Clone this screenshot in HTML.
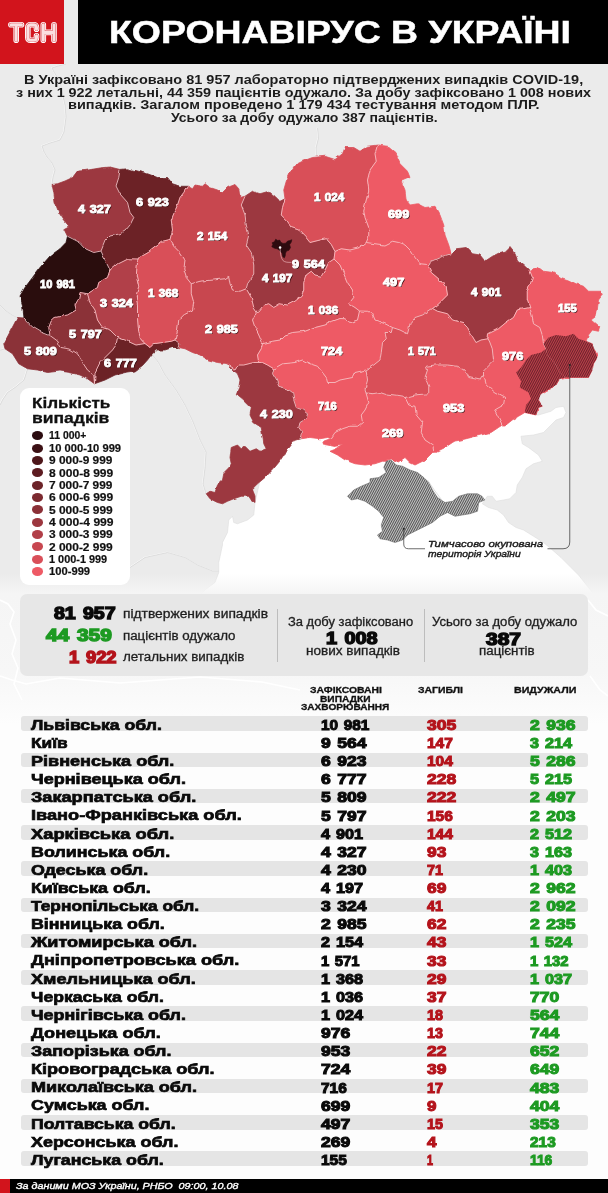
<!DOCTYPE html>
<html lang="uk"><head><meta charset="utf-8"><title>Коронавірус в Україні</title>
<style>
html,body{margin:0;padding:0}
body{width:608px;height:1193px;position:relative;overflow:hidden;background:#fdfdfd;font-family:"Liberation Sans",sans-serif;color:#111}
.abs{position:absolute}
#map{position:absolute;left:0;top:0;width:608px;height:1193px}
.t{position:absolute;white-space:nowrap;line-height:1;transform-origin:0 50%}
.c{transform-origin:50% 50%}
.hdr-red{left:0;top:0;width:64px;height:64px;background:#d2141c}
.hdr-blk{left:78px;top:0;width:530px;height:64px;background:#000}
.title{left:108px;top:17px;font-size:30px;font-weight:bold;color:#fff;letter-spacing:0.2px}
.desc{left:0;width:608px;text-align:center;font-size:12.2px;font-weight:bold;color:#1d1d1d}
.legend{left:20px;top:388px;width:110px;height:197px;background:#fff;border-radius:9px}
.lgt{left:32px;font-size:14.5px;font-weight:bold;color:#111}
.ld{position:absolute;left:31.6px;width:11.8px;height:9px;border-radius:50%}
.ll{left:49px;font-size:10.4px;font-weight:bold;color:#111}
.stats{left:20px;top:593.5px;width:568px;height:82px;background:#e7e7e7;border-radius:7px}
.big{font-size:20px;font-weight:bold;-webkit-text-stroke:0.7px currentColor}
.sl{font-size:11.6px;color:#222}
.vd{width:1px;background:#bdbdbd}
.th{font-size:8.6px;font-weight:bold;color:#111;-webkit-text-stroke:0.25px #111}
.stripe{left:20.5px;width:567px;height:14.6px;background:#e5e5e5;border-radius:3px}
.rn{left:30px;font-size:13.6px;font-weight:bold;color:#0a0a0a;-webkit-text-stroke:0.45px currentColor}
.n1{left:320px;font-size:14px;font-weight:bold;color:#0a0a0a;-webkit-text-stroke:0.55px currentColor}
.n2{left:426.5px;font-size:14px;font-weight:bold;color:#b4131b;-webkit-text-stroke:0.55px currentColor}
.n3{left:530px;font-size:14px;font-weight:bold;color:#1f9a1f;-webkit-text-stroke:0.55px currentColor}
.ft{left:0;top:1179px;width:608px;height:14px;background:#000}
.ftr{left:0;top:1179px;width:10px;height:14px;background:#d2141c}
.ftt{left:15px;top:1182.5px;font-size:8.6px;font-weight:bold;font-style:italic;color:#fff}
.ml{font-family:"Liberation Sans",sans-serif;font-weight:bold;font-size:11.3px;fill:#fff;text-anchor:middle;paint-order:stroke;stroke:#fff;stroke-width:0.35px}
.mls{font-family:"Liberation Sans",sans-serif;font-weight:bold;font-size:11.3px;fill:#3a0d10;text-anchor:middle;stroke:#3a0d10;stroke-width:0.5px;opacity:.75}
</style></head><body>
<svg id="map" viewBox="0 0 608 1193">
<defs>
<pattern id="hr" width="2" height="2" patternUnits="userSpaceOnUse" patternTransform="rotate(-62)"><rect width="2" height="2" fill="#bd414b"/><rect width="2" height="0.95" fill="#672029"/></pattern>
<pattern id="hg" width="2" height="2" patternUnits="userSpaceOnUse" patternTransform="rotate(-62)"><rect width="2" height="2" fill="#c6c6c6"/><rect width="2" height="0.9" fill="#474747"/></pattern>
<linearGradient id="fade" x1="0" y1="0" x2="0" y2="1"><stop offset="0" stop-color="#f5f5f5" stop-opacity="0"/><stop offset="1" stop-color="#f5f5f5" stop-opacity="1"/></linearGradient><linearGradient id="fade2" x1="0" y1="0" x2="0" y2="1"><stop offset="0" stop-color="#f5f5f5"/><stop offset="0.6" stop-color="#f7f7f7"/><stop offset="1" stop-color="#fdfdfd"/></linearGradient>
<filter id="rough" x="0" y="140" width="608" height="380" filterUnits="userSpaceOnUse"><feTurbulence type="fractalNoise" baseFrequency="0.12" numOctaves="2" seed="7" result="n"/><feDisplacementMap in="SourceGraphic" in2="n" scale="3.2" xChannelSelector="R" yChannelSelector="G"/></filter>
</defs>
<rect x="0" y="0" width="608" height="600" fill="#ebebeb"/>
<path d="M255 502.5 L262 472 L290 430 L330 420 L430 430 L500 415 L530 404 L536 415 L538.5 415 L551 411.25 L556 407.5 L563.5 406.25 L566 412.5 L563.5 417.5 L556 420 L551 425 L543.5 432.5 L533.5 435 L521 436.25 L522.25 443.75 L528.5 447.5 L538.5 455 L542.25 461.25 L533.5 463.75 L526 468.75 L522.25 477.5 L517.25 485 L516 492.5 L509.75 498.75 L503.5 500 L496 501.25 L492.25 496.25 L487.25 496.25 L482.25 503.75 L488.5 507.5 L497.25 510 L503.5 515 L508.5 522.5 L516 527.5 L523.5 530 L533.5 536.25 L543.5 542.5 L551 548.75 L561 557.5 L571 567.5 L578.5 575 L592 592 L594 600 L196 600 L201 594 L205 590 L215 582.5 L218.75 572.5 L218.75 562.5 L222.5 545 L222.5 542.5 L227.5 532.5 L228.75 520 L232.5 516.25 L233.75 522.5 L237.5 523.75 L247.5 520 L253.75 515Z" fill="#ffffff" stroke="#dddddd" stroke-width="0.6"/>
<path d="M66 64 L58 66 L52 68 L54 72 L60 82 L62 92 L65 105 L66 117 L64 132 L60 140 L50 143 L42 146 L44 152 L47 157 L52 163 L55 170 L53 177 L52 184" fill="none" stroke="#fbfbfb" stroke-width="1" transform="translate(-0.5,-0.3)"/>
<path d="M66 64 L58 66 L52 68 L54 72 L60 82 L62 92 L65 105 L66 117 L64 132 L60 140 L50 143 L42 146 L44 152 L47 157 L52 163 L55 170 L53 177 L52 184" fill="none" stroke="#d3d3d3" stroke-width="0.7"/>
<path d="M0 305 L6 311 L12 315 L18 318 L24 318" fill="none" stroke="#fbfbfb" stroke-width="1" transform="translate(-0.5,-0.3)"/>
<path d="M0 305 L6 311 L12 315 L18 318 L24 318" fill="none" stroke="#d3d3d3" stroke-width="0.7"/>
<path d="M5 349 L0 350" fill="none" stroke="#fbfbfb" stroke-width="1" transform="translate(-0.5,-0.3)"/>
<path d="M5 349 L0 350" fill="none" stroke="#d3d3d3" stroke-width="0.7"/>
<path d="M27.5 369 L24 380 L15 387.5 L7.5 392.5 L2.5 400 L0 405" fill="none" stroke="#fbfbfb" stroke-width="1" transform="translate(-0.5,-0.3)"/>
<path d="M27.5 369 L24 380 L15 387.5 L7.5 392.5 L2.5 400 L0 405" fill="none" stroke="#d3d3d3" stroke-width="0.7"/>
<path d="M150 352 L158 362 L165 375 L176 390 L185 405 L193 422 L200 440 L206 452 L205 468 L203 484 L206 494" fill="none" stroke="#fbfbfb" stroke-width="1" transform="translate(-0.5,-0.3)"/>
<path d="M150 352 L158 362 L165 375 L176 390 L185 405 L193 422 L200 440 L206 452 L205 468 L203 484 L206 494" fill="none" stroke="#d3d3d3" stroke-width="0.7"/>
<path d="M130 567.5 L145 557.5 L167.5 552.5 L185 557.5 L197.5 565 L212.5 571 L218.75 571" fill="none" stroke="#fbfbfb" stroke-width="1" transform="translate(-0.5,-0.3)"/>
<path d="M130 567.5 L145 557.5 L167.5 552.5 L185 557.5 L197.5 565 L212.5 571 L218.75 571" fill="none" stroke="#d3d3d3" stroke-width="0.7"/>
<path d="M317.5 128 L318.5 138 L316 148 L316.5 156" fill="none" stroke="#fbfbfb" stroke-width="1" transform="translate(-0.5,-0.3)"/>
<path d="M317.5 128 L318.5 138 L316 148 L316.5 156" fill="none" stroke="#d3d3d3" stroke-width="0.7"/>
<rect x="0" y="574" width="608" height="20" fill="url(#fade)"/>
<rect x="0" y="594" width="608" height="130" fill="url(#fade2)"/>
<rect x="0" y="724" width="608" height="469" fill="#fdfdfd"/>
<path d="M0 600 L8 604 L14 612 L10 624 L16 640 L12 654 L18 668 L14 684 L22 700" fill="none" stroke="#ffffff" stroke-width="1.6"/>
<path d="M0 676 L12 680 L26 684 L60 678 L120 683 L200 677 L262 682 L300 690" fill="none" stroke="#ffffff" stroke-width="1.6"/>
<path d="M588 600 L596 610 L608 616" fill="none" stroke="#ffffff" stroke-width="1.6"/>
<path d="M590 676 L600 690 L608 696" fill="none" stroke="#ffffff" stroke-width="1.6"/>
<g filter="url(#rough)">
<path d="M67.5 236.25 L63.75 228.75 L68.75 226 L63.75 220 L58.75 212.5 L55 202.5 L53.75 192.5 L52 184.5 L57.5 183.75 L65 181 L72.5 177.5 L77.5 171 L85 170.5 L100 168 L110 167 L120 169.5 L118.75 177.5 L116 186 L120 194 L127.5 202.5 L130 212.5 L133.75 217.5 L130 225 L125 231 L120 233.75 L110 236 L105 241 L101 251 L93.75 252.5 L86 249 L80 242.5 L72.5 238.75 L67.5 236.25Z" fill="#9c373f" stroke="#9c373f" stroke-width="0.8"/>
<path d="M120 169.5 L127.5 168.75 L137.5 171.25 L147.5 173.75 L157.5 177.5 L167.5 177.5 L172.5 183.75 L180 186.25 L187.5 186.25 L183.75 192.5 L180 197.5 L177.5 205 L173.75 213.75 L171.25 220 L172.5 230 L170 239.5 L162.5 241.25 L155 246.25 L148.75 251.25 L140 256.25 L138 259 L127.5 258.75 L117.5 263.75 L110 270 L107 264 L103.75 257 L101 251 L105 241 L110 236 L120 233.75 L125 231 L130 225 L133.75 217.5 L130 212.5 L127.5 202.5 L120 194 L116 186 L118.75 177.5 L120 169.5Z" fill="#6c2328" stroke="#6c2328" stroke-width="0.8"/>
<path d="M187.5 186.25 L192.5 188.75 L195 185 L202.5 186.25 L205 183.75 L210 187.5 L217.5 190 L222.5 192.5 L227.5 187.5 L235 184.5 L238.75 188.75 L240 197.5 L245 196.25 L241.25 205 L245 215 L246.25 225 L248.75 235 L246.25 245 L251.25 252.5 L253.75 265 L253.75 275 L247.5 283.75 L246.25 288.75 L240 291.25 L232.5 290 L230 283.75 L228.75 276.25 L225 278.75 L212.5 280 L200 281.25 L191.25 283.75 L186.25 277.5 L183.75 270 L185 260 L180 252.5 L173.75 246.25 L170 239.5 L172.5 230 L171.25 220 L173.75 213.75 L177.5 205 L180 197.5 L183.75 192.5 L187.5 186.25Z" fill="#c84750" stroke="#c84750" stroke-width="0.8"/>
<path d="M245 196.25 L252.5 191.25 L260 193.75 L268.75 191.25 L275 196.25 L280 201.25 L285 198.75 L282.5 207.5 L281.25 215 L286.25 220 L291.25 227.5 L298.75 230 L305 236.25 L310 242.5 L320 240 L326.25 238.75 L331.25 244.5 L335 251.5 L334 259 L328.75 262.5 L325 270 L321.25 276.25 L315 275 L311.25 271.25 L306.25 275 L303.75 282.5 L303.75 290 L301.25 296.25 L295 301.25 L287.5 305 L280 303.75 L273.75 307.5 L268.75 303.75 L263.75 305 L258.75 311.25 L256.5 311.5 L253.75 307.5 L251.25 297.5 L246.25 288.75 L247.5 283.75 L253.75 275 L253.75 265 L251.25 252.5 L246.25 245 L248.75 235 L246.25 225 L245 215 L241.25 205 L245 196.25Z" fill="#9c373f" stroke="#9c373f" stroke-width="0.8"/>
<path d="M285 198.75 L283.75 190 L286.25 181.25 L290 172.5 L295 165 L302.5 161.25 L312.5 157.5 L325 156.25 L335 159.5 L342.5 153.75 L345 147.5 L353.75 147.5 L360 151.25 L367.5 146.25 L377.5 145 L375 153.75 L376.25 161.25 L370 170 L367.5 180 L368.75 190 L366.25 200 L363.75 210 L365 217.5 L368.75 227.5 L368.75 236.25 L366.25 242.5 L360 247.5 L350 250 L341.25 248.75 L335 251.5 L331.25 244.5 L326.25 238.75 L320 240 L310 242.5 L305 236.25 L298.75 230 L291.25 227.5 L286.25 220 L281.25 215 L282.5 207.5 L285 198.75Z" fill="#d94f59" stroke="#d94f59" stroke-width="0.8"/>
<path d="M377.5 145 L387.5 146.25 L395 152.5 L400 163.75 L407.5 171.25 L410 177.5 L401.25 181.25 L405 190 L406.25 200 L410 205 L417.5 203.75 L425 207.5 L435 206.25 L440 215 L443.75 225 L445 235 L448.75 245 L451.25 253.75 L442.5 256.25 L431.25 261.25 L427.5 264.5 L420 263.75 L415 257.5 L410 250 L405 245 L398.75 242.5 L392.5 241.25 L385 245 L375 243.75 L366.25 242.5 L368.75 236.25 L368.75 227.5 L365 217.5 L363.75 210 L366.25 200 L368.75 190 L367.5 180 L370 170 L376.25 161.25 L375 153.75 L377.5 145Z" fill="#ee5a65" stroke="#ee5a65" stroke-width="0.8"/>
<path d="M451.25 253.75 L456.25 248.75 L466.25 247.5 L472.5 253.75 L480 255 L485 261.25 L492.5 256.25 L500 252.5 L506.25 251.25 L510 247.5 L515 253.75 L517.5 260 L525 266.25 L530 271.25 L532.5 277.5 L530 285 L527.25 291.25 L527.25 300 L529.75 307.5 L517.25 310 L513.5 317.5 L506 322.5 L498.5 328.75 L488.5 333.75 L488 338.75 L481 340 L476 342.5 L472.25 336.25 L467.5 327.5 L462.5 322.5 L452.5 320 L447.5 313.75 L437.5 311.25 L432.5 308.5 L437.5 305 L442.5 300 L447.5 295 L446.25 287.5 L440 280 L431.25 272.5 L427.5 264.5 L431.25 261.25 L442.5 256.25 L451.25 253.75Z" fill="#9c373f" stroke="#9c373f" stroke-width="0.8"/>
<path d="M530 271.25 L538.5 267.5 L543.5 271.25 L553.5 272.5 L561 277.5 L568.5 280 L576 283.75 L583.5 286.25 L588.5 291.25 L601 291.25 L602.25 295 L598.5 300 L597.25 310 L596 316.25 L591 320 L599.75 327.5 L598.5 331.25 L592.25 330 L588.5 335 L586 341.25 L592.25 343.75 L594.75 350 L597.25 357.5 L593.5 363.75 L592.25 370 L588.5 377.5 L576 377.5 L566 377.5 L559.75 372.5 L556 365 L552.25 360 L547.25 355 L546 348.75 L543.5 343.75 L542.25 335 L539.75 327.5 L533.5 323.75 L532.25 316.25 L529.75 307.5 L527.25 300 L527.25 291.25 L530 285 L532.5 277.5 L530 271.25Z" fill="#ee5a65" stroke="#ee5a65" stroke-width="0.8"/>
<path d="M529.75 307.5 L532.25 316.25 L533.5 323.75 L539.75 327.5 L542.25 335 L543.5 343.75 L546 348.75 L547.25 355 L552.25 360 L556 365 L559.75 372.5 L566 377.5 L559.75 378.75 L556 385 L549.75 388.75 L541 393.75 L538.5 400 L542.25 406.25 L538.5 407.5 L536 415 L524.75 412.5 L518.5 416.25 L512.25 420 L506 425 L502.25 425 L498.5 417.5 L494.75 410 L503.5 405 L504.75 397.5 L493.5 391.25 L486 383.75 L483.5 375 L483.5 370 L488.5 365 L493.5 360 L492.25 348.75 L489.75 342 L488 338.75 L488.5 333.75 L498.5 328.75 L506 322.5 L513.5 317.5 L517.25 310 L529.75 307.5Z" fill="#ee5a65" stroke="#ee5a65" stroke-width="0.8"/>
<path d="M483.5 375 L486 383.75 L493.5 391.25 L504.75 397.5 L503.5 405 L494.75 410 L498.5 417.5 L502.25 425 L498.5 427.5 L491 432.5 L481 435 L471 437.5 L461 440 L455 441 L452.5 442.5 L445 447.5 L437.5 451.25 L433.75 451.25 L432.5 445 L425 440 L421.25 432.5 L422.5 422.5 L416.25 415 L415 406.25 L408.75 405 L405 397.5 L415 395 L428.75 393.75 L428.75 386.25 L425 377.5 L427.5 370 L426.25 366.25 L435 365 L447.5 365 L457.5 366.25 L465 370 L468.75 377.5 L480 380 L483.5 375Z" fill="#ee5a65" stroke="#ee5a65" stroke-width="0.8"/>
<path d="M405 397.5 L408.75 405 L415 406.25 L416.25 415 L422.5 422.5 L421.25 432.5 L425 440 L432.5 445 L433.75 451.25 L430 455 L425 460 L420 462.5 L415 465 L410 462.5 L405 457.5 L397.5 462.5 L391.25 460 L386.25 461.25 L382.5 461.25 L375 463.75 L365 465 L355 463.75 L345 460 L337.5 455 L330 451.25 L336 449 L343 445 L335 446.5 L322 444 L324 441 L331 438.5 L335 432.5 L342.5 428.75 L350 426.25 L357.5 426.25 L362.5 422.5 L361.25 415 L365 410 L368.75 402.5 L366 393 L372.5 393.75 L380 392.5 L387.5 395 L397.5 396.25 L405 397.5Z" fill="#ee5a65" stroke="#ee5a65" stroke-width="0.8"/>
<path d="M331 438.5 L327.5 437.5 L320 438.75 L310 437.5 L301.25 438.75 L302.5 432.5 L298.75 427.5 L300 422.5 L306.25 418.75 L307.5 413.75 L302.5 410 L296.25 407.5 L293.75 400 L292.5 392.5 L287.5 388.75 L278.75 386.25 L276.25 380 L272.5 373.75 L273.75 368.75 L282.5 363.75 L295 362.5 L302.5 360 L310 363.75 L317.5 366.25 L322.5 372.5 L326.25 377.5 L327.5 382.5 L335 382.5 L340 380 L352.5 377.5 L355 372.5 L366 370 L367.5 380 L365 390 L366 393 L368.75 402.5 L365 410 L361.25 415 L362.5 422.5 L357.5 426.25 L350 426.25 L342.5 428.75 L335 432.5 L331 438.5Z" fill="#ee5a65" stroke="#ee5a65" stroke-width="0.8"/>
<path d="M301.25 438.75 L292.5 441.25 L287.5 447.5 L283.75 455 L278.75 462.5 L272.5 470 L265 477.5 L257.5 483.75 L252.5 488.75 L255 495 L255 502.5 L251.25 500 L248.75 496.25 L241.25 496.25 L233.75 498.75 L227.5 501.25 L222.5 503.75 L217.5 502.5 L210 498.75 L206.25 493.75 L210 491.25 L215 492.5 L217.5 485 L222.5 480 L223.75 473.75 L228.75 468.75 L231.25 463.75 L230 457.5 L231.25 447.5 L237.5 445 L241.25 448.75 L245 446.25 L250 451.25 L256.25 448.75 L260 451.25 L266.25 448.75 L263.75 443.75 L262.5 435 L261.25 427.5 L253.75 422.5 L250 415 L251.25 407.5 L247.5 403.75 L242.5 398.75 L236.25 393.75 L238.75 387.5 L240 380 L237.5 373.75 L232 369 L228.5 365.5 L235 369 L237.5 365 L243.75 365 L253.75 362.5 L258.75 362.5 L262.5 362.5 L267.5 365 L273.75 368.75 L272.5 373.75 L276.25 380 L278.75 386.25 L287.5 388.75 L292.5 392.5 L293.75 400 L296.25 407.5 L302.5 410 L307.5 413.75 L306.25 418.75 L300 422.5 L298.75 427.5 L302.5 432.5 L301.25 438.75Z" fill="#9c373f" stroke="#9c373f" stroke-width="0.8"/>
<path d="M228.5 365.5 L227.5 363.75 L217.5 362.5 L207.5 360 L200 355 L192.5 352.5 L185 348.75 L178.75 347.5 L180 343.75 L175 340 L177.5 330 L178.75 320 L185 313.75 L192.5 310 L193.75 302.5 L191.25 293.75 L191.25 283.75 L200 281.25 L212.5 280 L225 278.75 L228.75 276.25 L230 283.75 L232.5 290 L240 291.25 L246.25 288.75 L251.25 297.5 L253.75 307.5 L256.5 311.5 L252.5 320 L255 327.5 L258.75 335 L262.5 343.75 L261.25 348.75 L257.5 355 L258.75 362.5 L253.75 362.5 L243.75 365 L237.5 365 L235 369 L228.5 365.5Z" fill="#c84750" stroke="#c84750" stroke-width="0.8"/>
<path d="M178.75 347.5 L172.5 347.5 L165 350 L156.25 350 L151.25 355 L147.5 360 L142.5 365.5 L135 371 L125 372.5 L115 375 L105 380 L94.5 383.75 L95 372.5 L100 362.5 L107.5 355 L112.5 350 L116 345 L117.5 337.5 L125 340 L136 345 L145 343.5 L150 347.5 L153.75 343.75 L162.5 342.5 L171.25 341.25 L175 340 L180 343.75 L178.75 347.5Z" fill="#6c2328" stroke="#6c2328" stroke-width="0.8"/>
<path d="M94.5 383.75 L87.5 378.75 L80 375 L70 372.5 L60 371 L47.5 372.5 L37.5 370 L27.5 368.75 L18.75 363.75 L12.5 353.75 L5 348.75 L3.75 343.75 L11 330 L17.5 317.5 L24 318 L32.5 327 L40 331.5 L50 335.5 L57.5 341 L61 347.5 L70 349 L77.5 353.75 L82.5 362.5 L87.5 370 L93.75 375 L94.5 383.75Z" fill="#8b3037" stroke="#8b3037" stroke-width="0.8"/>
<path d="M24 318 L22.5 305 L20 296 L25 287.5 L32.5 277.5 L40 267.5 L50 256 L60 248.75 L66 242.5 L67.5 236.25 L72.5 238.75 L80 242.5 L86 249 L93.75 252.5 L101 251 L103.75 257 L107 264 L110 270 L107.5 277.5 L98.75 282.5 L97.5 287.5 L87.5 293.75 L80 292.5 L78.75 298.75 L75 305 L76.25 310 L67.5 315 L55 317.5 L51.25 321 L48.75 327.5 L50 335.5 L40 331.5 L32.5 327 L24 318Z" fill="#2b0c10" stroke="#2b0c10" stroke-width="0.8"/>
<path d="M50 335.5 L48.75 327.5 L51.25 321 L55 317.5 L67.5 315 L76.25 310 L75 305 L78.75 298.75 L80 292.5 L87.5 293.75 L90 302.5 L95 310 L97.5 320 L102.5 327.5 L110 330 L117.5 337.5 L116 345 L112.5 350 L107.5 355 L100 362.5 L95 372.5 L94.5 383.75 L93.75 375 L87.5 370 L82.5 362.5 L77.5 353.75 L70 349 L61 347.5 L57.5 341 L50 335.5Z" fill="#8b3037" stroke="#8b3037" stroke-width="0.8"/>
<path d="M110 270 L117.5 263.75 L127.5 258.75 L138 259 L137.5 262.5 L136.25 275 L138.75 286.25 L136.25 295 L137.5 305 L137.5 317.5 L138.75 332.5 L141.25 340 L145 343.5 L136 345 L125 340 L117.5 337.5 L110 330 L102.5 327.5 L97.5 320 L95 310 L90 302.5 L87.5 293.75 L97.5 287.5 L98.75 282.5 L107.5 277.5 L110 270Z" fill="#b13f48" stroke="#b13f48" stroke-width="0.8"/>
<path d="M138 259 L140 256.25 L148.75 251.25 L155 246.25 L162.5 241.25 L170 239.5 L173.75 246.25 L180 252.5 L185 260 L183.75 270 L186.25 277.5 L191.25 283.75 L191.25 293.75 L193.75 302.5 L192.5 310 L185 313.75 L178.75 320 L177.5 330 L175 340 L171.25 341.25 L162.5 342.5 L153.75 343.75 L150 347.5 L145 343.5 L141.25 340 L138.75 332.5 L137.5 317.5 L137.5 305 L136.25 295 L138.75 286.25 L136.25 275 L137.5 262.5 L138 259Z" fill="#d94f59" stroke="#d94f59" stroke-width="0.8"/>
<path d="M256.5 311.5 L258.75 311.25 L263.75 305 L268.75 303.75 L273.75 307.5 L280 303.75 L287.5 305 L295 301.25 L301.25 296.25 L303.75 290 L303.75 282.5 L306.25 275 L311.25 271.25 L315 275 L321.25 276.25 L325 270 L328.75 262.5 L334 259 L340 265 L343.75 273.75 L347.5 282.5 L352.5 290 L353.75 297.5 L348.75 303.75 L355 307.5 L359.5 311 L357.5 320 L350 322.5 L345 318.75 L340 318.5 L332.5 321.25 L325 325 L315 327.5 L305 331.25 L292.5 332.5 L285 335 L280 340 L272.5 341.25 L262.5 343.75 L258.75 335 L255 327.5 L252.5 320 L256.5 311.5Z" fill="#d94f59" stroke="#d94f59" stroke-width="0.8"/>
<path d="M335 251.5 L341.25 248.75 L350 250 L360 247.5 L366.25 242.5 L375 243.75 L385 245 L392.5 241.25 L398.75 242.5 L405 245 L410 250 L415 257.5 L420 263.75 L427.5 264.5 L431.25 272.5 L440 280 L446.25 287.5 L447.5 295 L442.5 300 L437.5 305 L432.5 308.5 L422.5 315 L415 317.5 L410 323.75 L407.5 333.75 L400 330 L392.5 327.5 L385 323.75 L375 320 L372.5 313.75 L367.5 311.25 L359.5 311 L355 307.5 L348.75 303.75 L353.75 297.5 L352.5 290 L347.5 282.5 L343.75 273.75 L340 265 L334 259 L335 251.5Z" fill="#ee5a65" stroke="#ee5a65" stroke-width="0.8"/>
<path d="M262.5 343.75 L272.5 341.25 L280 340 L285 335 L292.5 332.5 L305 331.25 L315 327.5 L325 325 L332.5 321.25 L340 318.5 L345 318.75 L350 322.5 L357.5 320 L359.5 311 L367.5 311.25 L372.5 313.75 L375 320 L385 323.75 L392.5 327.5 L391.25 332.5 L385 332.5 L386.25 338.75 L382.5 342.5 L381.25 352.5 L380 360 L373.75 365 L366 370 L355 372.5 L352.5 377.5 L340 380 L335 382.5 L327.5 382.5 L326.25 377.5 L322.5 372.5 L317.5 366.25 L310 363.75 L302.5 360 L295 362.5 L282.5 363.75 L273.75 368.75 L267.5 365 L262.5 362.5 L258.75 362.5 L257.5 355 L261.25 348.75 L262.5 343.75Z" fill="#ee5a65" stroke="#ee5a65" stroke-width="0.8"/>
<path d="M392.5 327.5 L400 330 L407.5 333.75 L410 323.75 L415 317.5 L422.5 315 L432.5 308.5 L437.5 311.25 L447.5 313.75 L452.5 320 L462.5 322.5 L467.5 327.5 L472.25 336.25 L476 342.5 L481 340 L488 338.75 L489.75 342 L492.25 348.75 L493.5 360 L488.5 365 L483.5 370 L483.5 375 L480 380 L468.75 377.5 L465 370 L457.5 366.25 L447.5 365 L435 365 L426.25 366.25 L427.5 370 L425 377.5 L428.75 386.25 L428.75 393.75 L415 395 L405 397.5 L397.5 396.25 L387.5 395 L380 392.5 L372.5 393.75 L366 393 L365 390 L367.5 380 L366 370 L373.75 365 L380 360 L381.25 352.5 L382.5 342.5 L386.25 338.75 L385 332.5 L391.25 332.5 L392.5 327.5Z" fill="#d94f59" stroke="#d94f59" stroke-width="0.8"/>
<path d="M67.5 236.25 L72.5 238.75 L80 242.5 L86 249 L93.75 252.5 L101 251 M120 169.5 L118.75 177.5 L116 186 L120 194 L127.5 202.5 L130 212.5 L133.75 217.5 L130 225 L125 231 L120 233.75 L110 236 L105 241 L101 251 M101 251 L103.75 257 L107 264 L110 270 M110 270 L117.5 263.75 L127.5 258.75 L138 259 M138 259 L140 256.25 L148.75 251.25 L155 246.25 L162.5 241.25 L170 239.5 M187.5 186.25 L183.75 192.5 L180 197.5 L177.5 205 L173.75 213.75 L171.25 220 L172.5 230 L170 239.5 M110 270 L107.5 277.5 L98.75 282.5 L97.5 287.5 L87.5 293.75 M87.5 293.75 L80 292.5 L78.75 298.75 L75 305 L76.25 310 L67.5 315 L55 317.5 L51.25 321 L48.75 327.5 L50 335.5 M50 335.5 L40 331.5 L32.5 327 L24 318 M50 335.5 L57.5 341 L61 347.5 L70 349 L77.5 353.75 L82.5 362.5 L87.5 370 L93.75 375 L94.5 383.75 M87.5 293.75 L90 302.5 L95 310 L97.5 320 L102.5 327.5 L110 330 L117.5 337.5 M117.5 337.5 L116 345 L112.5 350 L107.5 355 L100 362.5 L95 372.5 L94.5 383.75 M117.5 337.5 L125 340 L136 345 L145 343.5 M138 259 L137.5 262.5 L136.25 275 L138.75 286.25 L136.25 295 L137.5 305 L137.5 317.5 L138.75 332.5 L141.25 340 L145 343.5 M145 343.5 L150 347.5 L153.75 343.75 L162.5 342.5 L171.25 341.25 L175 340 M175 340 L177.5 330 L178.75 320 L185 313.75 L192.5 310 L193.75 302.5 L191.25 293.75 L191.25 283.75 M170 239.5 L173.75 246.25 L180 252.5 L185 260 L183.75 270 L186.25 277.5 L191.25 283.75 M191.25 283.75 L200 281.25 L212.5 280 L225 278.75 L228.75 276.25 L230 283.75 L232.5 290 L240 291.25 L246.25 288.75 M245 196.25 L241.25 205 L245 215 L246.25 225 L248.75 235 L246.25 245 L251.25 252.5 L253.75 265 L253.75 275 L247.5 283.75 L246.25 288.75 M246.25 288.75 L251.25 297.5 L253.75 307.5 L256.5 311.5 M256.5 311.5 L252.5 320 L255 327.5 L258.75 335 L262.5 343.75 M262.5 343.75 L261.25 348.75 L257.5 355 L258.75 362.5 M228.5 365.5 L235 369 L237.5 365 L243.75 365 L253.75 362.5 L258.75 362.5 M175 340 L180 343.75 L178.75 347.5 M258.75 362.5 L262.5 362.5 L267.5 365 L273.75 368.75 M273.75 368.75 L272.5 373.75 L276.25 380 L278.75 386.25 L287.5 388.75 L292.5 392.5 L293.75 400 L296.25 407.5 L302.5 410 L307.5 413.75 L306.25 418.75 L300 422.5 L298.75 427.5 L302.5 432.5 L301.25 438.75 M273.75 368.75 L282.5 363.75 L295 362.5 L302.5 360 L310 363.75 L317.5 366.25 L322.5 372.5 L326.25 377.5 L327.5 382.5 L335 382.5 L340 380 L352.5 377.5 L355 372.5 L366 370 M256.5 311.5 L258.75 311.25 L263.75 305 L268.75 303.75 L273.75 307.5 L280 303.75 L287.5 305 L295 301.25 L301.25 296.25 L303.75 290 L303.75 282.5 L306.25 275 L311.25 271.25 L315 275 L321.25 276.25 L325 270 L328.75 262.5 L334 259 M285 198.75 L282.5 207.5 L281.25 215 L286.25 220 L291.25 227.5 L298.75 230 L305 236.25 L310 242.5 L320 240 L326.25 238.75 L331.25 244.5 L335 251.5 M335 251.5 L334 259 M335 251.5 L341.25 248.75 L350 250 L360 247.5 L366.25 242.5 M377.5 145 L375 153.75 L376.25 161.25 L370 170 L367.5 180 L368.75 190 L366.25 200 L363.75 210 L365 217.5 L368.75 227.5 L368.75 236.25 L366.25 242.5 M366.25 242.5 L375 243.75 L385 245 L392.5 241.25 L398.75 242.5 L405 245 L410 250 L415 257.5 L420 263.75 L427.5 264.5 M451.25 253.75 L442.5 256.25 L431.25 261.25 L427.5 264.5 M427.5 264.5 L431.25 272.5 L440 280 L446.25 287.5 L447.5 295 L442.5 300 L437.5 305 L432.5 308.5 M334 259 L340 265 L343.75 273.75 L347.5 282.5 L352.5 290 L353.75 297.5 L348.75 303.75 L355 307.5 L359.5 311 M359.5 311 L367.5 311.25 L372.5 313.75 L375 320 L385 323.75 L392.5 327.5 M262.5 343.75 L272.5 341.25 L280 340 L285 335 L292.5 332.5 L305 331.25 L315 327.5 L325 325 L332.5 321.25 L340 318.5 L345 318.75 L350 322.5 L357.5 320 L359.5 311 M432.5 308.5 L422.5 315 L415 317.5 L410 323.75 L407.5 333.75 L400 330 L392.5 327.5 M392.5 327.5 L391.25 332.5 L385 332.5 L386.25 338.75 L382.5 342.5 L381.25 352.5 L380 360 L373.75 365 L366 370 M366 370 L367.5 380 L365 390 L366 393 M366 393 L372.5 393.75 L380 392.5 L387.5 395 L397.5 396.25 L405 397.5 M405 397.5 L415 395 L428.75 393.75 L428.75 386.25 L425 377.5 L427.5 370 L426.25 366.25 L435 365 L447.5 365 L457.5 366.25 L465 370 L468.75 377.5 L480 380 L483.5 375 M483.5 375 L483.5 370 L488.5 365 L493.5 360 L492.25 348.75 L489.75 342 L488 338.75 M432.5 308.5 L437.5 311.25 L447.5 313.75 L452.5 320 L462.5 322.5 L467.5 327.5 L472.25 336.25 L476 342.5 L481 340 L488 338.75 M331 438.5 L335 432.5 L342.5 428.75 L350 426.25 L357.5 426.25 L362.5 422.5 L361.25 415 L365 410 L368.75 402.5 L366 393 M405 397.5 L408.75 405 L415 406.25 L416.25 415 L422.5 422.5 L421.25 432.5 L425 440 L432.5 445 L433.75 451.25 M483.5 375 L486 383.75 L493.5 391.25 L504.75 397.5 L503.5 405 L494.75 410 L498.5 417.5 L502.25 425 M529.75 307.5 L532.25 316.25 L533.5 323.75 L539.75 327.5 L542.25 335 L543.5 343.75 L546 348.75 L547.25 355 L552.25 360 L556 365 L559.75 372.5 L566 377.5 M530 271.25 L532.5 277.5 L530 285 L527.25 291.25 L527.25 300 L529.75 307.5 M529.75 307.5 L517.25 310 L513.5 317.5 L506 322.5 L498.5 328.75 L488.5 333.75 L488 338.75" fill="none" stroke="#f7c3c7" stroke-width="0.9" stroke-opacity="0.95" stroke-linejoin="round"/>
</g>
<path d="M543.5 343.75 L548.5 337.5 L556 335 L566 336.25 L573.5 333.75 L578.5 338.75 L586 341.25 L592.25 343.75 L594.75 350 L597.25 357.5 L593.5 363.75 L592.25 370 L588.5 377.5 L576 377.5 L566 377.5 L559.75 372.5 L556 365 L552.25 360 L547.25 355 L546 348.75Z" fill="url(#hr)" stroke="none"/>
<path d="M546 348.75 L547.25 355 L552.25 360 L556 365 L559.75 372.5 L566 377.5 L559.75 378.75 L556 385 L549.75 388.75 L541 393.75 L538.5 400 L542.25 406.25 L538.5 407.5 L536 415 L524.75 412.5 L526 405 L531 398.75 L528.5 392.5 L519.75 387.5 L521 381.25 L516 372.5 L521 367.5 L526 360 L531 355 L541 352.5Z" fill="url(#hr)" stroke="none"/>
<path d="M386.25 461.25 L391.25 460 L396.25 465 L402.5 466.25 L410 470 L417.5 472.5 L423.75 477.5 L428.75 482.5 L432.5 490 L437.5 497.5 L445 502.5 L452.5 501.25 L458.75 496.25 L467.5 493.75 L477.5 493.75 L482 496.25 L484.75 500 L478.75 502.5 L477.5 511.25 L470 513.75 L462.5 515 L455 516.25 L447.5 512.5 L440 516.25 L432.5 522.5 L425 526.25 L415 531.25 L407.5 535 L402.5 540 L395 542.5 L387.5 540 L380 538.75 L377.5 535 L382.5 531.25 L381.25 525 L383.75 517.5 L378.75 511.25 L372.5 506.25 L365 501.25 L357.5 498.75 L351.25 500 L347.5 496.25 L353.75 490 L361.25 486.25 L370 482.5 L370 478.75 L378.75 477.5 L386.25 472.5 L383.75 467.5Z" fill="url(#hg)" stroke="#5a5a5a" stroke-width="0.5"/>
<path d="M427.5 480 L435 491 L442.5 501" fill="none" stroke="#cfcfcf" stroke-width="0.7"/>
<path d="M271.8 246.7 L272.8 244.5 L272.1 242.8 L274.4 241.8 L275.7 239.2 L277.7 240.5 L279.7 240.1 L281 242.4 L283 243.4 L285.6 243.2 L287.6 241.1 L289.9 240.5 L291.8 239.7 L291.3 242.1 L289.6 244.7 L290.5 247.6 L288.9 250.3 L286.5 251.1 L285.5 253.3 L285.2 255.9 L284.3 257.9 L282.7 256.6 L282.1 253.3 L280.3 251.3 L278.6 249.7 L277.1 248.7 L275.1 248.4 L273.1 247.6Z" fill="#2e0b0f" stroke="#2e0b0f" stroke-width="0.6" stroke-linejoin="round"/>
<path d="M280.1 247.6 C280.2 252 280.6 258 283 260.6 C285 262.4 288 262.4 291.5 262.4" fill="none" stroke="#f3c3c6" stroke-width="0.6"/>
<circle cx="280.1" cy="247.6" r="1.25" fill="#fff"/>
<path d="M569.75 365 L569.75 542 Q569.75 548.75 563 548.75 L547.5 548.75" fill="none" stroke="#3c3c3c" stroke-width="0.75"/>
<circle cx="569.75" cy="365" r="1.1" fill="#222"/>
<path d="M403.75 528.75 L403.75 544 Q403.75 548.75 408.5 548.75 L425 548.75" fill="none" stroke="#3c3c3c" stroke-width="0.75"/>
<circle cx="403.75" cy="528.75" r="1.1" fill="#222"/>
</svg>
<div class="abs hdr-red"></div><div class="abs hdr-blk"></div>
<svg class="abs" style="left:0;top:0" width="64" height="64" viewBox="0 0 64 64"><g fill="none" stroke-linecap="round" stroke-linejoin="round"><path d="M10.9 24.7H21.5M16.2 24.7V40.2 M36.5 29.2V27.7Q36.5 24.7 33.5 24.7H30.8Q27.8 24.7 27.8 27.7V37.2Q27.8 40.2 30.8 40.2H33.5Q36.5 40.2 36.5 37.2V35.7 M43.3 24.7V40.2M54 24.7V40.2M43.3 32.4H54" stroke="#fff" stroke-width="5.6"/><path d="M10.9 24.7H21.5M16.2 24.7V40.2 M36.5 29.2V27.7Q36.5 24.7 33.5 24.7H30.8Q27.8 24.7 27.8 27.7V37.2Q27.8 40.2 30.8 40.2H33.5Q36.5 40.2 36.5 37.2V35.7 M43.3 24.7V40.2M54 24.7V40.2M43.3 32.4H54" stroke="#d6333a" stroke-width="3.7"/><path d="M10.9 24.7H21.5M16.2 24.7V40.2 M36.5 29.2V27.7Q36.5 24.7 33.5 24.7H30.8Q27.8 24.7 27.8 27.7V37.2Q27.8 40.2 30.8 40.2H33.5Q36.5 40.2 36.5 37.2V35.7 M43.3 24.7V40.2M54 24.7V40.2M43.3 32.4H54" stroke="#fbdfe0" stroke-width="3.0"/></g></svg>
<div class="t" style="left:109.30px;top:17.24px;font-size:31.5px;color:#fff;transform:scaleX(1.1876);transform-origin:0 50%;font-weight:bold;-webkit-text-stroke:0.5px #fff;">КОРОНАВІРУС В УКРАЇНІ</div>
<div class="t" style="left:24.15px;top:72.63px;font-size:13.2px;color:#1c1c1c;transform:scaleX(1.0991);transform-origin:0 50%;font-weight:bold;">В Україні зафіксовано 81 957 лабораторно підтверджених випадків COVID-19,</div>
<div class="t" style="left:16.25px;top:85.56px;font-size:13.2px;color:#1c1c1c;transform:scaleX(1.0896);transform-origin:0 50%;font-weight:bold;">з них 1 922 летальні, 44 359 пацієнтів одужало. За добу зафіксовано 1 008 нових</div>
<div class="t" style="left:68.00px;top:98.49px;font-size:13.2px;color:#1c1c1c;transform:scaleX(1.1013);transform-origin:0 50%;font-weight:bold;">випадків. Загалом проведено 1 179 434 тестування методом ПЛР.</div>
<div class="t" style="left:170.50px;top:111.42px;font-size:13.2px;color:#1c1c1c;transform:scaleX(1.0617);transform-origin:0 50%;font-weight:bold;">Усього за добу одужало 387 пацієнтів.</div>
<div class="abs legend"></div>
<div class="t" style="left:31.70px;top:395.93px;font-size:14.5px;color:#111;transform:scaleX(1.1813);transform-origin:0 50%;font-weight:bold;-webkit-text-stroke:0.3px #111;">Кількість</div>
<div class="t" style="left:31.70px;top:410.53px;font-size:14.5px;color:#111;transform:scaleX(1.2068);transform-origin:0 50%;font-weight:bold;-webkit-text-stroke:0.3px #111;">випадків</div>
<div class="ld" style="top:431.2px;background:#2b0c10"></div>
<div class="t" style="left:49.20px;top:430.48px;font-size:10.6px;color:#111;transform:scaleX(0.9835);transform-origin:0 50%;font-weight:bold;-webkit-text-stroke:0.2px #111;">11 000+</div>
<div class="ld" style="top:443.55px;background:#3c1115"></div>
<div class="t" style="left:49.20px;top:442.83px;font-size:10.6px;color:#111;transform:scaleX(1.0545);transform-origin:0 50%;font-weight:bold;-webkit-text-stroke:0.2px #111;">10 000-10 999</div>
<div class="ld" style="top:455.9px;background:#4e171b"></div>
<div class="t" style="left:49.20px;top:455.18px;font-size:10.6px;color:#111;transform:scaleX(1.1222);transform-origin:0 50%;font-weight:bold;-webkit-text-stroke:0.2px #111;">9 000-9 999</div>
<div class="ld" style="top:468.25px;background:#5d1c21"></div>
<div class="t" style="left:49.20px;top:467.53px;font-size:10.6px;color:#111;transform:scaleX(1.1364);transform-origin:0 50%;font-weight:bold;-webkit-text-stroke:0.2px #111;">8 000-8 999</div>
<div class="ld" style="top:480.6px;background:#6c2328"></div>
<div class="t" style="left:49.20px;top:479.88px;font-size:10.6px;color:#111;transform:scaleX(1.1222);transform-origin:0 50%;font-weight:bold;-webkit-text-stroke:0.2px #111;">7 000-7 999</div>
<div class="ld" style="top:492.95px;background:#7c2a30"></div>
<div class="t" style="left:49.20px;top:492.23px;font-size:10.6px;color:#111;transform:scaleX(1.1364);transform-origin:0 50%;font-weight:bold;-webkit-text-stroke:0.2px #111;">6 000-6 999</div>
<div class="ld" style="top:505.3px;background:#8b3037"></div>
<div class="t" style="left:49.20px;top:504.58px;font-size:10.6px;color:#111;transform:scaleX(1.1275);transform-origin:0 50%;font-weight:bold;-webkit-text-stroke:0.2px #111;">5 000-5 999</div>
<div class="ld" style="top:517.65px;background:#9c373f"></div>
<div class="t" style="left:49.20px;top:516.93px;font-size:10.6px;color:#111;transform:scaleX(1.1417);transform-origin:0 50%;font-weight:bold;-webkit-text-stroke:0.2px #111;">4 000-4 999</div>
<div class="ld" style="top:530px;background:#b13f48"></div>
<div class="t" style="left:49.20px;top:529.28px;font-size:10.6px;color:#111;transform:scaleX(1.1275);transform-origin:0 50%;font-weight:bold;-webkit-text-stroke:0.2px #111;">3 000-3 999</div>
<div class="ld" style="top:542.35px;background:#c84750"></div>
<div class="t" style="left:49.20px;top:541.63px;font-size:10.6px;color:#111;transform:scaleX(1.1275);transform-origin:0 50%;font-weight:bold;-webkit-text-stroke:0.2px #111;">2 000-2 999</div>
<div class="ld" style="top:554.7px;background:#d94f59"></div>
<div class="t" style="left:49.20px;top:553.98px;font-size:10.6px;color:#111;transform:scaleX(1.0286);transform-origin:0 50%;font-weight:bold;-webkit-text-stroke:0.2px #111;">1 000-1 999</div>
<div class="ld" style="top:567.05px;background:#ee5a65"></div>
<div class="t" style="left:49.20px;top:566.33px;font-size:10.6px;color:#111;transform:scaleX(1.0565);transform-origin:0 50%;font-weight:bold;-webkit-text-stroke:0.2px #111;">100-999</div>
<div class="abs stats"></div>
<div class="abs vd" style="left:276.8px;top:609px;height:53px"></div><div class="abs vd" style="left:424.2px;top:609px;height:53px"></div>
<div class="t" style="left:53.60px;top:605.46px;font-size:17.3px;color:#0a0a0a;transform:scaleX(1.1300);transform-origin:0 50%;font-weight:bold;-webkit-text-stroke:1.45px #0a0a0a;word-spacing:1.6px;">81 957</div>
<div class="t" style="left:45.60px;top:626.66px;font-size:17.3px;color:#1d9a22;transform:scaleX(1.2070);transform-origin:0 50%;font-weight:bold;-webkit-text-stroke:1.45px #1d9a22;word-spacing:1.6px;">44 359</div>
<div class="t" style="left:69.30px;top:648.76px;font-size:17.3px;color:#b4131b;transform:scaleX(1.0603);transform-origin:0 50%;font-weight:bold;-webkit-text-stroke:1.45px #b4131b;word-spacing:1.6px;">1 922</div>
<div class="t" style="left:122.50px;top:607.84px;font-size:12px;color:#1e1e1e;transform:scaleX(1.1493);transform-origin:0 50%;-webkit-text-stroke:0.3px #1e1e1e;">підтвержених випадків</div>
<div class="t" style="left:122.50px;top:629.59px;font-size:12px;color:#1e1e1e;transform:scaleX(1.1095);transform-origin:0 50%;-webkit-text-stroke:0.3px #1e1e1e;">пацієнтів одужало</div>
<div class="t" style="left:122.50px;top:650.84px;font-size:12px;color:#1e1e1e;transform:scaleX(1.1147);transform-origin:0 50%;-webkit-text-stroke:0.3px #1e1e1e;">летальних випадків</div>
<div class="t" style="left:287.73px;top:616.24px;font-size:12px;color:#1e1e1e;transform:scaleX(1.0789);transform-origin:0 50%;-webkit-text-stroke:0.3px #1e1e1e;">За добу зафіксовано</div>
<div class="t" style="left:326.35px;top:629.91px;font-size:17px;color:#0a0a0a;transform:scaleX(1.1689);transform-origin:0 50%;font-weight:bold;-webkit-text-stroke:1.4px #0a0a0a;word-spacing:1.6px;">1 008</div>
<div class="t" style="left:305.70px;top:644.74px;font-size:12px;color:#1e1e1e;transform:scaleX(1.1290);transform-origin:0 50%;-webkit-text-stroke:0.3px #1e1e1e;">нових випадків</div>
<div class="t" style="left:432.35px;top:616.14px;font-size:12px;color:#1e1e1e;transform:scaleX(1.0920);transform-origin:0 50%;-webkit-text-stroke:0.3px #1e1e1e;">Усього за добу одужало</div>
<div class="t" style="left:486.05px;top:630.92px;font-size:16.4px;color:#0a0a0a;transform:scaleX(1.2754);transform-origin:0 50%;font-weight:bold;-webkit-text-stroke:1.4px #0a0a0a;">387</div>
<div class="t" style="left:478.80px;top:645.24px;font-size:12px;color:#1e1e1e;transform:scaleX(1.1120);transform-origin:0 50%;-webkit-text-stroke:0.3px #1e1e1e;">пацієнтів</div>
<div class="t" style="left:310.10px;top:685.67px;font-size:8.9px;color:#111;transform:scaleX(1.1720);transform-origin:0 50%;font-weight:bold;-webkit-text-stroke:0.3px #111;">ЗАФІКСОВАНІ</div>
<div class="t" style="left:320.30px;top:694.77px;font-size:8.9px;color:#111;transform:scaleX(1.1461);transform-origin:0 50%;font-weight:bold;-webkit-text-stroke:0.3px #111;">ВИПАДКИ</div>
<div class="t" style="left:301.30px;top:703.37px;font-size:8.9px;color:#111;transform:scaleX(1.1381);transform-origin:0 50%;font-weight:bold;-webkit-text-stroke:0.3px #111;">ЗАХВОРЮВАННЯ</div>
<div class="t" style="left:417.80px;top:685.67px;font-size:8.9px;color:#111;transform:scaleX(1.1764);transform-origin:0 50%;font-weight:bold;-webkit-text-stroke:0.3px #111;">ЗАГИБЛІ</div>
<div class="t" style="left:514.30px;top:685.67px;font-size:8.9px;color:#111;transform:scaleX(1.2012);transform-origin:0 50%;font-weight:bold;-webkit-text-stroke:0.3px #111;">ВИДУЖАЛИ</div>
<div class="abs stripe" style="top:716.3px"></div>
<div class="t" style="left:30.90px;top:716.72px;font-size:15.1px;color:#0a0a0a;transform:scaleX(1.1682);transform-origin:0 50%;font-weight:bold;-webkit-text-stroke:0.7px #0a0a0a;">Львівська обл.</div>
<div class="t" style="left:320.60px;top:716.90px;font-size:15px;color:#0a0a0a;transform:scaleX(1.0259);transform-origin:0 50%;font-weight:bold;-webkit-text-stroke:1.05px #0a0a0a;word-spacing:1.3px;">10 981</div>
<div class="t" style="left:426.80px;top:716.90px;font-size:15px;color:#b4131b;transform:scaleX(1.1707);transform-origin:0 50%;font-weight:bold;-webkit-text-stroke:1.05px #b4131b;word-spacing:1.3px;">305</div>
<div class="t" style="left:530.20px;top:716.90px;font-size:15px;color:#1d9a22;transform:scaleX(1.1715);transform-origin:0 50%;font-weight:bold;-webkit-text-stroke:1.05px #1d9a22;word-spacing:1.3px;">2 936</div>
<div class="t" style="left:30.90px;top:734.85px;font-size:15.1px;color:#0a0a0a;transform:scaleX(1.1489);transform-origin:0 50%;font-weight:bold;-webkit-text-stroke:0.7px #0a0a0a;">Київ</div>
<div class="t" style="left:320.60px;top:735.03px;font-size:15px;color:#0a0a0a;transform:scaleX(1.1715);transform-origin:0 50%;font-weight:bold;-webkit-text-stroke:1.05px #0a0a0a;word-spacing:1.3px;">9 564</div>
<div class="t" style="left:426.80px;top:735.03px;font-size:15px;color:#b4131b;transform:scaleX(1.0309);transform-origin:0 50%;font-weight:bold;-webkit-text-stroke:1.05px #b4131b;word-spacing:1.3px;">147</div>
<div class="t" style="left:530.20px;top:735.03px;font-size:15px;color:#1d9a22;transform:scaleX(1.0814);transform-origin:0 50%;font-weight:bold;-webkit-text-stroke:1.05px #1d9a22;word-spacing:1.3px;">3 214</div>
<div class="abs stripe" style="top:752.56px"></div>
<div class="t" style="left:30.90px;top:752.98px;font-size:15.1px;color:#0a0a0a;transform:scaleX(1.1952);transform-origin:0 50%;font-weight:bold;-webkit-text-stroke:0.7px #0a0a0a;">Рівненська обл.</div>
<div class="t" style="left:320.60px;top:753.16px;font-size:15px;color:#0a0a0a;transform:scaleX(1.1715);transform-origin:0 50%;font-weight:bold;-webkit-text-stroke:1.05px #0a0a0a;word-spacing:1.3px;">6 923</div>
<div class="t" style="left:426.80px;top:753.16px;font-size:15px;color:#b4131b;transform:scaleX(1.0309);transform-origin:0 50%;font-weight:bold;-webkit-text-stroke:1.05px #b4131b;word-spacing:1.3px;">104</div>
<div class="t" style="left:530.20px;top:753.16px;font-size:15px;color:#1d9a22;transform:scaleX(1.1715);transform-origin:0 50%;font-weight:bold;-webkit-text-stroke:1.05px #1d9a22;word-spacing:1.3px;">5 286</div>
<div class="t" style="left:30.90px;top:771.11px;font-size:15.1px;color:#0a0a0a;transform:scaleX(1.1950);transform-origin:0 50%;font-weight:bold;-webkit-text-stroke:0.7px #0a0a0a;">Чернівецька обл.</div>
<div class="t" style="left:320.60px;top:771.29px;font-size:15px;color:#0a0a0a;transform:scaleX(1.1715);transform-origin:0 50%;font-weight:bold;-webkit-text-stroke:1.05px #0a0a0a;word-spacing:1.3px;">6 777</div>
<div class="t" style="left:426.80px;top:771.29px;font-size:15px;color:#b4131b;transform:scaleX(1.1707);transform-origin:0 50%;font-weight:bold;-webkit-text-stroke:1.05px #b4131b;word-spacing:1.3px;">228</div>
<div class="t" style="left:530.20px;top:771.29px;font-size:15px;color:#1d9a22;transform:scaleX(1.0814);transform-origin:0 50%;font-weight:bold;-webkit-text-stroke:1.05px #1d9a22;word-spacing:1.3px;">5 215</div>
<div class="abs stripe" style="top:788.82px"></div>
<div class="t" style="left:30.90px;top:789.24px;font-size:15.1px;color:#0a0a0a;transform:scaleX(1.2018);transform-origin:0 50%;font-weight:bold;-webkit-text-stroke:0.7px #0a0a0a;">Закарпатська обл.</div>
<div class="t" style="left:320.60px;top:789.42px;font-size:15px;color:#0a0a0a;transform:scaleX(1.1715);transform-origin:0 50%;font-weight:bold;-webkit-text-stroke:1.05px #0a0a0a;word-spacing:1.3px;">5 809</div>
<div class="t" style="left:426.80px;top:789.42px;font-size:15px;color:#b4131b;transform:scaleX(1.1707);transform-origin:0 50%;font-weight:bold;-webkit-text-stroke:1.05px #b4131b;word-spacing:1.3px;">222</div>
<div class="t" style="left:530.20px;top:789.42px;font-size:15px;color:#1d9a22;transform:scaleX(1.1715);transform-origin:0 50%;font-weight:bold;-webkit-text-stroke:1.05px #1d9a22;word-spacing:1.3px;">2 497</div>
<div class="t" style="left:30.90px;top:807.37px;font-size:15.1px;color:#0a0a0a;transform:scaleX(1.2042);transform-origin:0 50%;font-weight:bold;-webkit-text-stroke:0.7px #0a0a0a;">Івано-Франківська обл.</div>
<div class="t" style="left:320.60px;top:807.55px;font-size:15px;color:#0a0a0a;transform:scaleX(1.1715);transform-origin:0 50%;font-weight:bold;-webkit-text-stroke:1.05px #0a0a0a;word-spacing:1.3px;">5 797</div>
<div class="t" style="left:426.80px;top:807.55px;font-size:15px;color:#b4131b;transform:scaleX(1.0309);transform-origin:0 50%;font-weight:bold;-webkit-text-stroke:1.05px #b4131b;word-spacing:1.3px;">156</div>
<div class="t" style="left:530.20px;top:807.55px;font-size:15px;color:#1d9a22;transform:scaleX(1.1715);transform-origin:0 50%;font-weight:bold;-webkit-text-stroke:1.05px #1d9a22;word-spacing:1.3px;">2 203</div>
<div class="abs stripe" style="top:825.08px"></div>
<div class="t" style="left:30.90px;top:825.50px;font-size:15.1px;color:#0a0a0a;transform:scaleX(1.2138);transform-origin:0 50%;font-weight:bold;-webkit-text-stroke:0.7px #0a0a0a;">Харківська обл.</div>
<div class="t" style="left:320.60px;top:825.68px;font-size:15px;color:#0a0a0a;transform:scaleX(1.0814);transform-origin:0 50%;font-weight:bold;-webkit-text-stroke:1.05px #0a0a0a;word-spacing:1.3px;">4 901</div>
<div class="t" style="left:426.80px;top:825.68px;font-size:15px;color:#b4131b;transform:scaleX(1.0309);transform-origin:0 50%;font-weight:bold;-webkit-text-stroke:1.05px #b4131b;word-spacing:1.3px;">144</div>
<div class="t" style="left:530.20px;top:825.68px;font-size:15px;color:#1d9a22;transform:scaleX(1.0814);transform-origin:0 50%;font-weight:bold;-webkit-text-stroke:1.05px #1d9a22;word-spacing:1.3px;">2 512</div>
<div class="t" style="left:30.90px;top:843.63px;font-size:15.1px;color:#0a0a0a;transform:scaleX(1.1843);transform-origin:0 50%;font-weight:bold;-webkit-text-stroke:0.7px #0a0a0a;">Волинська обл.</div>
<div class="t" style="left:320.60px;top:843.81px;font-size:15px;color:#0a0a0a;transform:scaleX(1.1715);transform-origin:0 50%;font-weight:bold;-webkit-text-stroke:1.05px #0a0a0a;word-spacing:1.3px;">4 327</div>
<div class="t" style="left:426.80px;top:843.81px;font-size:15px;color:#b4131b;transform:scaleX(1.1627);transform-origin:0 50%;font-weight:bold;-webkit-text-stroke:1.05px #b4131b;word-spacing:1.3px;">93</div>
<div class="t" style="left:530.20px;top:843.81px;font-size:15px;color:#1d9a22;transform:scaleX(1.0814);transform-origin:0 50%;font-weight:bold;-webkit-text-stroke:1.05px #1d9a22;word-spacing:1.3px;">3 163</div>
<div class="abs stripe" style="top:861.34px"></div>
<div class="t" style="left:30.90px;top:861.76px;font-size:15.1px;color:#0a0a0a;transform:scaleX(1.1845);transform-origin:0 50%;font-weight:bold;-webkit-text-stroke:0.7px #0a0a0a;">Одеська обл.</div>
<div class="t" style="left:320.60px;top:861.94px;font-size:15px;color:#0a0a0a;transform:scaleX(1.1715);transform-origin:0 50%;font-weight:bold;-webkit-text-stroke:1.05px #0a0a0a;word-spacing:1.3px;">4 230</div>
<div class="t" style="left:426.80px;top:861.94px;font-size:15px;color:#b4131b;transform:scaleX(0.9529);transform-origin:0 50%;font-weight:bold;-webkit-text-stroke:1.05px #b4131b;word-spacing:1.3px;">71</div>
<div class="t" style="left:530.20px;top:861.94px;font-size:15px;color:#1d9a22;transform:scaleX(1.0814);transform-origin:0 50%;font-weight:bold;-webkit-text-stroke:1.05px #1d9a22;word-spacing:1.3px;">1 403</div>
<div class="t" style="left:30.90px;top:879.89px;font-size:15.1px;color:#0a0a0a;transform:scaleX(1.1799);transform-origin:0 50%;font-weight:bold;-webkit-text-stroke:0.7px #0a0a0a;">Київська обл.</div>
<div class="t" style="left:320.60px;top:880.07px;font-size:15px;color:#0a0a0a;transform:scaleX(1.0814);transform-origin:0 50%;font-weight:bold;-webkit-text-stroke:1.05px #0a0a0a;word-spacing:1.3px;">4 197</div>
<div class="t" style="left:426.80px;top:880.07px;font-size:15px;color:#b4131b;transform:scaleX(1.1627);transform-origin:0 50%;font-weight:bold;-webkit-text-stroke:1.05px #b4131b;word-spacing:1.3px;">69</div>
<div class="t" style="left:530.20px;top:880.07px;font-size:15px;color:#1d9a22;transform:scaleX(1.1715);transform-origin:0 50%;font-weight:bold;-webkit-text-stroke:1.05px #1d9a22;word-spacing:1.3px;">2 962</div>
<div class="abs stripe" style="top:897.6px"></div>
<div class="t" style="left:30.90px;top:898.02px;font-size:15.1px;color:#0a0a0a;transform:scaleX(1.1487);transform-origin:0 50%;font-weight:bold;-webkit-text-stroke:0.7px #0a0a0a;">Тернопільська обл.</div>
<div class="t" style="left:320.60px;top:898.20px;font-size:15px;color:#0a0a0a;transform:scaleX(1.1715);transform-origin:0 50%;font-weight:bold;-webkit-text-stroke:1.05px #0a0a0a;word-spacing:1.3px;">3 324</div>
<div class="t" style="left:426.80px;top:898.20px;font-size:15px;color:#b4131b;transform:scaleX(0.9529);transform-origin:0 50%;font-weight:bold;-webkit-text-stroke:1.05px #b4131b;word-spacing:1.3px;">41</div>
<div class="t" style="left:530.20px;top:898.20px;font-size:15px;color:#1d9a22;transform:scaleX(1.1715);transform-origin:0 50%;font-weight:bold;-webkit-text-stroke:1.05px #1d9a22;word-spacing:1.3px;">2 092</div>
<div class="t" style="left:30.90px;top:916.15px;font-size:15.1px;color:#0a0a0a;transform:scaleX(1.1809);transform-origin:0 50%;font-weight:bold;-webkit-text-stroke:0.7px #0a0a0a;">Вінницька обл.</div>
<div class="t" style="left:320.60px;top:916.33px;font-size:15px;color:#0a0a0a;transform:scaleX(1.1715);transform-origin:0 50%;font-weight:bold;-webkit-text-stroke:1.05px #0a0a0a;word-spacing:1.3px;">2 985</div>
<div class="t" style="left:426.80px;top:916.33px;font-size:15px;color:#b4131b;transform:scaleX(1.1627);transform-origin:0 50%;font-weight:bold;-webkit-text-stroke:1.05px #b4131b;word-spacing:1.3px;">62</div>
<div class="t" style="left:530.20px;top:916.33px;font-size:15px;color:#1d9a22;transform:scaleX(1.1715);transform-origin:0 50%;font-weight:bold;-webkit-text-stroke:1.05px #1d9a22;word-spacing:1.3px;">2 235</div>
<div class="abs stripe" style="top:933.86px"></div>
<div class="t" style="left:30.90px;top:934.28px;font-size:15.1px;color:#0a0a0a;transform:scaleX(1.1982);transform-origin:0 50%;font-weight:bold;-webkit-text-stroke:0.7px #0a0a0a;">Житомирська обл.</div>
<div class="t" style="left:320.60px;top:934.46px;font-size:15px;color:#0a0a0a;transform:scaleX(1.0814);transform-origin:0 50%;font-weight:bold;-webkit-text-stroke:1.05px #0a0a0a;word-spacing:1.3px;">2 154</div>
<div class="t" style="left:426.80px;top:934.46px;font-size:15px;color:#b4131b;transform:scaleX(1.1627);transform-origin:0 50%;font-weight:bold;-webkit-text-stroke:1.05px #b4131b;word-spacing:1.3px;">43</div>
<div class="t" style="left:530.20px;top:934.46px;font-size:15px;color:#1d9a22;transform:scaleX(1.0814);transform-origin:0 50%;font-weight:bold;-webkit-text-stroke:1.05px #1d9a22;word-spacing:1.3px;">1 524</div>
<div class="t" style="left:30.90px;top:952.41px;font-size:15.1px;color:#0a0a0a;transform:scaleX(1.2011);transform-origin:0 50%;font-weight:bold;-webkit-text-stroke:0.7px #0a0a0a;">Дніпропетровська обл.</div>
<div class="t" style="left:320.60px;top:952.59px;font-size:15px;color:#0a0a0a;transform:scaleX(0.9913);transform-origin:0 50%;font-weight:bold;-webkit-text-stroke:1.05px #0a0a0a;word-spacing:1.3px;">1 571</div>
<div class="t" style="left:426.80px;top:952.59px;font-size:15px;color:#b4131b;transform:scaleX(1.1627);transform-origin:0 50%;font-weight:bold;-webkit-text-stroke:1.05px #b4131b;word-spacing:1.3px;">33</div>
<div class="t" style="left:530.20px;top:952.59px;font-size:15px;color:#1d9a22;transform:scaleX(0.9913);transform-origin:0 50%;font-weight:bold;-webkit-text-stroke:1.05px #1d9a22;word-spacing:1.3px;">1 132</div>
<div class="abs stripe" style="top:970.12px"></div>
<div class="t" style="left:30.90px;top:970.54px;font-size:15.1px;color:#0a0a0a;transform:scaleX(1.1984);transform-origin:0 50%;font-weight:bold;-webkit-text-stroke:0.7px #0a0a0a;">Хмельницька обл.</div>
<div class="t" style="left:320.60px;top:970.72px;font-size:15px;color:#0a0a0a;transform:scaleX(1.0814);transform-origin:0 50%;font-weight:bold;-webkit-text-stroke:1.05px #0a0a0a;word-spacing:1.3px;">1 368</div>
<div class="t" style="left:426.80px;top:970.72px;font-size:15px;color:#b4131b;transform:scaleX(1.1627);transform-origin:0 50%;font-weight:bold;-webkit-text-stroke:1.05px #b4131b;word-spacing:1.3px;">29</div>
<div class="t" style="left:530.20px;top:970.72px;font-size:15px;color:#1d9a22;transform:scaleX(1.0814);transform-origin:0 50%;font-weight:bold;-webkit-text-stroke:1.05px #1d9a22;word-spacing:1.3px;">1 037</div>
<div class="t" style="left:30.90px;top:988.67px;font-size:15.1px;color:#0a0a0a;transform:scaleX(1.1669);transform-origin:0 50%;font-weight:bold;-webkit-text-stroke:0.7px #0a0a0a;">Черкаська обл.</div>
<div class="t" style="left:320.60px;top:988.85px;font-size:15px;color:#0a0a0a;transform:scaleX(1.0814);transform-origin:0 50%;font-weight:bold;-webkit-text-stroke:1.05px #0a0a0a;word-spacing:1.3px;">1 036</div>
<div class="t" style="left:426.80px;top:988.85px;font-size:15px;color:#b4131b;transform:scaleX(1.1627);transform-origin:0 50%;font-weight:bold;-webkit-text-stroke:1.05px #b4131b;word-spacing:1.3px;">37</div>
<div class="t" style="left:530.20px;top:988.85px;font-size:15px;color:#1d9a22;transform:scaleX(1.1707);transform-origin:0 50%;font-weight:bold;-webkit-text-stroke:1.05px #1d9a22;word-spacing:1.3px;">770</div>
<div class="abs stripe" style="top:1006.38px"></div>
<div class="t" style="left:30.90px;top:1006.80px;font-size:15.1px;color:#0a0a0a;transform:scaleX(1.1856);transform-origin:0 50%;font-weight:bold;-webkit-text-stroke:0.7px #0a0a0a;">Чернігівська обл.</div>
<div class="t" style="left:320.60px;top:1006.98px;font-size:15px;color:#0a0a0a;transform:scaleX(1.0814);transform-origin:0 50%;font-weight:bold;-webkit-text-stroke:1.05px #0a0a0a;word-spacing:1.3px;">1 024</div>
<div class="t" style="left:426.80px;top:1006.98px;font-size:15px;color:#b4131b;transform:scaleX(0.9529);transform-origin:0 50%;font-weight:bold;-webkit-text-stroke:1.05px #b4131b;word-spacing:1.3px;">18</div>
<div class="t" style="left:530.20px;top:1006.98px;font-size:15px;color:#1d9a22;transform:scaleX(1.1707);transform-origin:0 50%;font-weight:bold;-webkit-text-stroke:1.05px #1d9a22;word-spacing:1.3px;">564</div>
<div class="t" style="left:30.90px;top:1024.93px;font-size:15.1px;color:#0a0a0a;transform:scaleX(1.1969);transform-origin:0 50%;font-weight:bold;-webkit-text-stroke:0.7px #0a0a0a;">Донецька обл.</div>
<div class="t" style="left:320.60px;top:1025.11px;font-size:15px;color:#0a0a0a;transform:scaleX(1.1707);transform-origin:0 50%;font-weight:bold;-webkit-text-stroke:1.05px #0a0a0a;word-spacing:1.3px;">976</div>
<div class="t" style="left:426.80px;top:1025.11px;font-size:15px;color:#b4131b;transform:scaleX(0.9529);transform-origin:0 50%;font-weight:bold;-webkit-text-stroke:1.05px #b4131b;word-spacing:1.3px;">13</div>
<div class="t" style="left:530.20px;top:1025.11px;font-size:15px;color:#1d9a22;transform:scaleX(1.1707);transform-origin:0 50%;font-weight:bold;-webkit-text-stroke:1.05px #1d9a22;word-spacing:1.3px;">744</div>
<div class="abs stripe" style="top:1042.64px"></div>
<div class="t" style="left:30.90px;top:1043.06px;font-size:15.1px;color:#0a0a0a;transform:scaleX(1.1854);transform-origin:0 50%;font-weight:bold;-webkit-text-stroke:0.7px #0a0a0a;">Запорізька обл.</div>
<div class="t" style="left:320.60px;top:1043.24px;font-size:15px;color:#0a0a0a;transform:scaleX(1.1707);transform-origin:0 50%;font-weight:bold;-webkit-text-stroke:1.05px #0a0a0a;word-spacing:1.3px;">953</div>
<div class="t" style="left:426.80px;top:1043.24px;font-size:15px;color:#b4131b;transform:scaleX(1.1627);transform-origin:0 50%;font-weight:bold;-webkit-text-stroke:1.05px #b4131b;word-spacing:1.3px;">22</div>
<div class="t" style="left:530.20px;top:1043.24px;font-size:15px;color:#1d9a22;transform:scaleX(1.1707);transform-origin:0 50%;font-weight:bold;-webkit-text-stroke:1.05px #1d9a22;word-spacing:1.3px;">652</div>
<div class="t" style="left:30.90px;top:1061.19px;font-size:15.1px;color:#0a0a0a;transform:scaleX(1.1980);transform-origin:0 50%;font-weight:bold;-webkit-text-stroke:0.7px #0a0a0a;">Кіровоградська обл.</div>
<div class="t" style="left:320.60px;top:1061.37px;font-size:15px;color:#0a0a0a;transform:scaleX(1.1707);transform-origin:0 50%;font-weight:bold;-webkit-text-stroke:1.05px #0a0a0a;word-spacing:1.3px;">724</div>
<div class="t" style="left:426.80px;top:1061.37px;font-size:15px;color:#b4131b;transform:scaleX(1.1627);transform-origin:0 50%;font-weight:bold;-webkit-text-stroke:1.05px #b4131b;word-spacing:1.3px;">39</div>
<div class="t" style="left:530.20px;top:1061.37px;font-size:15px;color:#1d9a22;transform:scaleX(1.1707);transform-origin:0 50%;font-weight:bold;-webkit-text-stroke:1.05px #1d9a22;word-spacing:1.3px;">649</div>
<div class="abs stripe" style="top:1078.9px"></div>
<div class="t" style="left:30.90px;top:1079.32px;font-size:15.1px;color:#0a0a0a;transform:scaleX(1.1949);transform-origin:0 50%;font-weight:bold;-webkit-text-stroke:0.7px #0a0a0a;">Миколаївська обл.</div>
<div class="t" style="left:320.60px;top:1079.50px;font-size:15px;color:#0a0a0a;transform:scaleX(1.0309);transform-origin:0 50%;font-weight:bold;-webkit-text-stroke:1.05px #0a0a0a;word-spacing:1.3px;">716</div>
<div class="t" style="left:426.80px;top:1079.50px;font-size:15px;color:#b4131b;transform:scaleX(0.9529);transform-origin:0 50%;font-weight:bold;-webkit-text-stroke:1.05px #b4131b;word-spacing:1.3px;">17</div>
<div class="t" style="left:530.20px;top:1079.50px;font-size:15px;color:#1d9a22;transform:scaleX(1.1707);transform-origin:0 50%;font-weight:bold;-webkit-text-stroke:1.05px #1d9a22;word-spacing:1.3px;">483</div>
<div class="t" style="left:30.90px;top:1097.45px;font-size:15.1px;color:#0a0a0a;transform:scaleX(1.1866);transform-origin:0 50%;font-weight:bold;-webkit-text-stroke:0.7px #0a0a0a;">Сумська обл.</div>
<div class="t" style="left:320.60px;top:1097.63px;font-size:15px;color:#0a0a0a;transform:scaleX(1.1707);transform-origin:0 50%;font-weight:bold;-webkit-text-stroke:1.05px #0a0a0a;word-spacing:1.3px;">699</div>
<div class="t" style="left:426.80px;top:1097.63px;font-size:15px;color:#b4131b;transform:scaleX(1.1387);transform-origin:0 50%;font-weight:bold;-webkit-text-stroke:1.05px #b4131b;word-spacing:1.3px;">9</div>
<div class="t" style="left:530.20px;top:1097.63px;font-size:15px;color:#1d9a22;transform:scaleX(1.1707);transform-origin:0 50%;font-weight:bold;-webkit-text-stroke:1.05px #1d9a22;word-spacing:1.3px;">404</div>
<div class="abs stripe" style="top:1115.16px"></div>
<div class="t" style="left:30.90px;top:1115.58px;font-size:15.1px;color:#0a0a0a;transform:scaleX(1.1681);transform-origin:0 50%;font-weight:bold;-webkit-text-stroke:0.7px #0a0a0a;">Полтавська обл.</div>
<div class="t" style="left:320.60px;top:1115.76px;font-size:15px;color:#0a0a0a;transform:scaleX(1.1707);transform-origin:0 50%;font-weight:bold;-webkit-text-stroke:1.05px #0a0a0a;word-spacing:1.3px;">497</div>
<div class="t" style="left:426.80px;top:1115.76px;font-size:15px;color:#b4131b;transform:scaleX(0.9529);transform-origin:0 50%;font-weight:bold;-webkit-text-stroke:1.05px #b4131b;word-spacing:1.3px;">15</div>
<div class="t" style="left:530.20px;top:1115.76px;font-size:15px;color:#1d9a22;transform:scaleX(1.1707);transform-origin:0 50%;font-weight:bold;-webkit-text-stroke:1.05px #1d9a22;word-spacing:1.3px;">353</div>
<div class="t" style="left:30.90px;top:1133.71px;font-size:15.1px;color:#0a0a0a;transform:scaleX(1.1873);transform-origin:0 50%;font-weight:bold;-webkit-text-stroke:0.7px #0a0a0a;">Херсонська обл.</div>
<div class="t" style="left:320.60px;top:1133.89px;font-size:15px;color:#0a0a0a;transform:scaleX(1.1707);transform-origin:0 50%;font-weight:bold;-webkit-text-stroke:1.05px #0a0a0a;word-spacing:1.3px;">269</div>
<div class="t" style="left:426.80px;top:1133.89px;font-size:15px;color:#b4131b;transform:scaleX(1.1387);transform-origin:0 50%;font-weight:bold;-webkit-text-stroke:1.05px #b4131b;word-spacing:1.3px;">4</div>
<div class="t" style="left:530.20px;top:1133.89px;font-size:15px;color:#1d9a22;transform:scaleX(1.0309);transform-origin:0 50%;font-weight:bold;-webkit-text-stroke:1.05px #1d9a22;word-spacing:1.3px;">213</div>
<div class="abs stripe" style="top:1151.42px"></div>
<div class="t" style="left:30.90px;top:1151.84px;font-size:15.1px;color:#0a0a0a;transform:scaleX(1.1795);transform-origin:0 50%;font-weight:bold;-webkit-text-stroke:0.7px #0a0a0a;">Луганська обл.</div>
<div class="t" style="left:320.60px;top:1152.02px;font-size:15px;color:#0a0a0a;transform:scaleX(1.0309);transform-origin:0 50%;font-weight:bold;-webkit-text-stroke:1.05px #0a0a0a;word-spacing:1.3px;">155</div>
<div class="t" style="left:426.80px;top:1152.02px;font-size:15px;color:#b4131b;transform:scaleX(0.7192);transform-origin:0 50%;font-weight:bold;-webkit-text-stroke:1.05px #b4131b;word-spacing:1.3px;">1</div>
<div class="t" style="left:530.20px;top:1152.02px;font-size:15px;color:#1d9a22;transform:scaleX(0.9215);transform-origin:0 50%;font-weight:bold;-webkit-text-stroke:1.05px #1d9a22;word-spacing:1.3px;">116</div>
<div class="abs ft"></div><div class="abs ftr"></div>
<div class="t" style="left:16.00px;top:1182.07px;font-size:8.9px;color:#fff;transform:scaleX(1.2108);transform-origin:0 50%;font-style:italic;-webkit-text-stroke:0.35px #fff;">За даними МОЗ України, РНБО&nbsp; 09:00, 10.08</div>
<div class="t" style="left:77.59px;top:204.27px;font-size:11.5px;color:#fff;transform:scaleX(1.1021);transform-origin:0 50%;font-weight:bold;-webkit-text-stroke:0.9px #fff;text-shadow:1px 1.1px 0.5px rgba(40,8,10,.9);word-spacing:1px;">4 327</div>
<div class="t" style="left:136.09px;top:196.77px;font-size:11.5px;color:#fff;transform:scaleX(1.1021);transform-origin:0 50%;font-weight:bold;-webkit-text-stroke:0.9px #fff;text-shadow:1px 1.1px 0.5px rgba(40,8,10,.9);word-spacing:1px;">6 923</div>
<div class="t" style="left:197.34px;top:230.77px;font-size:11.5px;color:#fff;transform:scaleX(1.0180);transform-origin:0 50%;font-weight:bold;-webkit-text-stroke:0.9px #fff;text-shadow:1px 1.1px 0.5px rgba(40,8,10,.9);word-spacing:1px;">2 154</div>
<div class="t" style="left:40.05px;top:279.27px;font-size:11.5px;color:#fff;transform:scaleX(0.9645);transform-origin:0 50%;font-weight:bold;-webkit-text-stroke:0.9px #fff;text-shadow:1px 1.1px 0.5px rgba(40,8,10,.9);word-spacing:1px;">10 981</div>
<div class="t" style="left:100.09px;top:298.27px;font-size:11.5px;color:#fff;transform:scaleX(1.1021);transform-origin:0 50%;font-weight:bold;-webkit-text-stroke:0.9px #fff;text-shadow:1px 1.1px 0.5px rgba(40,8,10,.9);word-spacing:1px;">3 324</div>
<div class="t" style="left:148.34px;top:288.27px;font-size:11.5px;color:#fff;transform:scaleX(1.0180);transform-origin:0 50%;font-weight:bold;-webkit-text-stroke:0.9px #fff;text-shadow:1px 1.1px 0.5px rgba(40,8,10,.9);word-spacing:1px;">1 368</div>
<div class="t" style="left:205.09px;top:324.27px;font-size:11.5px;color:#fff;transform:scaleX(1.1021);transform-origin:0 50%;font-weight:bold;-webkit-text-stroke:0.9px #fff;text-shadow:1px 1.1px 0.5px rgba(40,8,10,.9);word-spacing:1px;">2 985</div>
<div class="t" style="left:68.59px;top:329.27px;font-size:11.5px;color:#fff;transform:scaleX(1.1021);transform-origin:0 50%;font-weight:bold;-webkit-text-stroke:0.9px #fff;text-shadow:1px 1.1px 0.5px rgba(40,8,10,.9);word-spacing:1px;">5 797</div>
<div class="t" style="left:23.59px;top:345.77px;font-size:11.5px;color:#fff;transform:scaleX(1.1021);transform-origin:0 50%;font-weight:bold;-webkit-text-stroke:0.9px #fff;text-shadow:1px 1.1px 0.5px rgba(40,8,10,.9);word-spacing:1px;">5 809</div>
<div class="t" style="left:103.59px;top:358.27px;font-size:11.5px;color:#fff;transform:scaleX(1.1021);transform-origin:0 50%;font-weight:bold;-webkit-text-stroke:0.9px #fff;text-shadow:1px 1.1px 0.5px rgba(40,8,10,.9);word-spacing:1px;">6 777</div>
<div class="t" style="left:261.84px;top:273.37px;font-size:11.5px;color:#fff;transform:scaleX(1.0180);transform-origin:0 50%;font-weight:bold;-webkit-text-stroke:0.9px #fff;text-shadow:1px 1.1px 0.5px rgba(40,8,10,.9);word-spacing:1px;">4 197</div>
<div class="t" style="left:313.84px;top:191.77px;font-size:11.5px;color:#fff;transform:scaleX(1.0180);transform-origin:0 50%;font-weight:bold;-webkit-text-stroke:0.9px #fff;text-shadow:1px 1.1px 0.5px rgba(40,8,10,.9);word-spacing:1px;">1 024</div>
<div class="t" style="left:388.38px;top:209.27px;font-size:11.5px;color:#fff;transform:scaleX(1.1067);transform-origin:0 50%;font-weight:bold;-webkit-text-stroke:0.9px #fff;text-shadow:1px 1.1px 0.5px rgba(40,8,10,.9);word-spacing:1px;">699</div>
<div class="t" style="left:383.38px;top:276.77px;font-size:11.5px;color:#fff;transform:scaleX(1.1067);transform-origin:0 50%;font-weight:bold;-webkit-text-stroke:0.9px #fff;text-shadow:1px 1.1px 0.5px rgba(40,8,10,.9);word-spacing:1px;">497</div>
<div class="t" style="left:471.34px;top:287.27px;font-size:11.5px;color:#fff;transform:scaleX(1.0180);transform-origin:0 50%;font-weight:bold;-webkit-text-stroke:0.9px #fff;text-shadow:1px 1.1px 0.5px rgba(40,8,10,.9);word-spacing:1px;">4 901</div>
<div class="t" style="left:558.13px;top:303.27px;font-size:11.5px;color:#fff;transform:scaleX(0.9763);transform-origin:0 50%;font-weight:bold;-webkit-text-stroke:0.9px #fff;text-shadow:1px 1.1px 0.5px rgba(40,8,10,.9);word-spacing:1px;">155</div>
<div class="t" style="left:307.84px;top:304.77px;font-size:11.5px;color:#fff;transform:scaleX(1.0180);transform-origin:0 50%;font-weight:bold;-webkit-text-stroke:0.9px #fff;text-shadow:1px 1.1px 0.5px rgba(40,8,10,.9);word-spacing:1px;">1 036</div>
<div class="t" style="left:320.88px;top:345.77px;font-size:11.5px;color:#fff;transform:scaleX(1.1067);transform-origin:0 50%;font-weight:bold;-webkit-text-stroke:0.9px #fff;text-shadow:1px 1.1px 0.5px rgba(40,8,10,.9);word-spacing:1px;">724</div>
<div class="t" style="left:407.59px;top:345.77px;font-size:11.5px;color:#fff;transform:scaleX(0.9340);transform-origin:0 50%;font-weight:bold;-webkit-text-stroke:0.9px #fff;text-shadow:1px 1.1px 0.5px rgba(40,8,10,.9);word-spacing:1px;">1 571</div>
<div class="t" style="left:501.88px;top:350.77px;font-size:11.5px;color:#fff;transform:scaleX(1.1067);transform-origin:0 50%;font-weight:bold;-webkit-text-stroke:0.9px #fff;text-shadow:1px 1.1px 0.5px rgba(40,8,10,.9);word-spacing:1px;">976</div>
<div class="t" style="left:292.19px;top:258.97px;font-size:11.5px;color:#fff;transform:scaleX(1.1021);transform-origin:0 50%;font-weight:bold;-webkit-text-stroke:0.9px #fff;text-shadow:1px 1.1px 0.5px rgba(40,8,10,.9);word-spacing:1px;">9 564</div>
<div class="t" style="left:318.13px;top:400.77px;font-size:11.5px;color:#fff;transform:scaleX(0.9763);transform-origin:0 50%;font-weight:bold;-webkit-text-stroke:0.9px #fff;text-shadow:1px 1.1px 0.5px rgba(40,8,10,.9);word-spacing:1px;">716</div>
<div class="t" style="left:443.38px;top:403.27px;font-size:11.5px;color:#fff;transform:scaleX(1.1067);transform-origin:0 50%;font-weight:bold;-webkit-text-stroke:0.9px #fff;text-shadow:1px 1.1px 0.5px rgba(40,8,10,.9);word-spacing:1px;">953</div>
<div class="t" style="left:382.38px;top:428.27px;font-size:11.5px;color:#fff;transform:scaleX(1.1067);transform-origin:0 50%;font-weight:bold;-webkit-text-stroke:0.9px #fff;text-shadow:1px 1.1px 0.5px rgba(40,8,10,.9);word-spacing:1px;">269</div>
<div class="t" style="left:260.09px;top:409.27px;font-size:11.5px;color:#fff;transform:scaleX(1.1021);transform-origin:0 50%;font-weight:bold;-webkit-text-stroke:0.9px #fff;text-shadow:1px 1.1px 0.5px rgba(40,8,10,.9);word-spacing:1px;">4 230</div>
<div class="t" style="left:428.00px;top:539.22px;font-size:9.9px;color:#1a1a1a;transform:scaleX(1.1573);transform-origin:0 50%;font-style:italic;-webkit-text-stroke:0.4px #1a1a1a;">Тимчасово окупована</div>
<div class="t" style="left:428.00px;top:549.22px;font-size:9.9px;color:#1a1a1a;transform:scaleX(1.0425);transform-origin:0 50%;font-style:italic;-webkit-text-stroke:0.4px #1a1a1a;">територія України</div>
</body></html>
